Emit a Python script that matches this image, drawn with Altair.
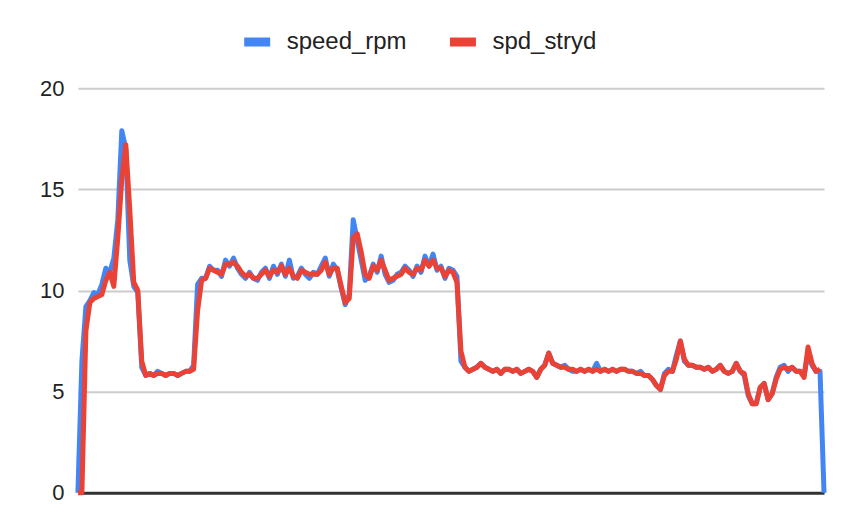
import altair as alt
import pandas as pd

series_names = ["speed_rpm", "spd_stryd"]
series_colors = ["#4285F4", "#EA4335"]
y_ticks = [0, 5, 10, 15, 20]

speed_rpm = [
    0, 6.5, 9.2, 9.5, 9.9, 9.8, 10.3, 11.1, 10.9, 11.6,
    13.5, 17.9, 17.0, 11.5, 10.2, 9.9, 6.2, 5.8, 5.9, 5.8,
    6.0, 5.9, 5.8, 5.9, 5.9, 5.8, 5.9, 6.0, 6.0, 6.3,
    10.3, 10.6, 10.6, 11.2, 11.0, 11.0, 10.7, 11.5, 11.2, 11.6,
    11.1, 10.8, 10.6, 10.9, 10.6, 10.5, 10.9, 11.1, 10.6, 11.2,
    10.8, 11.3, 10.7, 11.5, 10.6, 10.7, 11.1, 10.8, 10.6, 10.9,
    10.8, 11.2, 11.6, 10.7, 11.3, 11.0, 10.1, 9.3, 9.8, 13.5,
    12.5, 11.5, 10.5, 10.7, 11.3, 10.9, 11.7, 10.8, 10.4, 10.5,
    10.8, 10.9, 11.2, 11.0, 10.7, 11.2, 10.9, 11.7, 11.2, 11.8,
    11.0, 11.2, 10.6, 11.1, 11.0, 10.7, 6.5, 6.2, 6.0, 6.1,
    6.2, 6.4, 6.2, 6.1, 6.0, 6.1, 5.9, 6.1, 6.1, 6.0,
    6.1, 5.9, 6.0, 6.1, 6.0, 5.7, 6.1, 6.3, 6.9, 6.4,
    6.3, 6.2, 6.3, 6.1, 6.0, 6.0, 6.1, 6.0, 6.1, 6.0,
    6.4, 6.0, 6.1, 6.0, 6.1, 6.0, 6.1, 6.1, 6.0, 6.0,
    5.9, 6.0, 5.8, 5.8, 5.6, 5.3, 5.1, 5.9, 6.1, 6.0,
    6.8, 7.5, 6.5, 6.3, 6.3, 6.2, 6.2, 6.1, 6.2, 6.0,
    6.1, 6.3, 6.0, 5.9, 6.0, 6.4, 6.0, 5.8, 4.8, 4.4,
    4.4, 5.2, 5.4, 4.6, 4.9, 5.7, 6.2, 6.3, 6.0, 6.2,
    6.0, 6.0, 5.8, 6.9, 6.3, 6.0, 6.0, 0,
]

spd_stryd = [
    0, 0, 8.0, 9.4, 9.6, 9.7, 9.8, 10.5, 10.9, 10.2,
    12.6, 15.5, 17.2, 14.0, 10.4, 10.0, 6.5, 5.8, 5.9, 5.8,
    5.9, 5.9, 5.8, 5.9, 5.9, 5.8, 5.9, 6.0, 6.0, 6.1,
    9.0, 10.5, 10.6, 11.1, 11.0, 10.9, 10.8, 11.3, 11.3, 11.4,
    11.2, 10.9, 10.7, 10.8, 10.6, 10.6, 10.8, 11.0, 10.7, 11.0,
    10.9, 11.2, 10.8, 11.1, 10.7, 10.6, 11.0, 10.9, 10.8, 10.8,
    10.8, 11.0, 11.4, 10.8, 11.1, 11.1, 10.2, 9.4, 9.6, 12.6,
    12.8, 11.9, 10.8, 10.6, 11.2, 11.0, 11.5, 11.0, 10.5, 10.6,
    10.7, 10.8, 11.1, 10.9, 10.8, 11.1, 11.0, 11.5, 11.2, 11.5,
    11.1, 11.1, 10.7, 11.0, 10.9, 10.4, 7.0, 6.2, 6.0, 6.1,
    6.2, 6.4, 6.2, 6.1, 6.0, 6.1, 5.9, 6.1, 6.1, 6.0,
    6.1, 5.9, 6.0, 6.1, 6.0, 5.7, 6.1, 6.3, 6.9, 6.4,
    6.3, 6.2, 6.2, 6.1, 6.1, 6.0, 6.1, 6.0, 6.1, 6.0,
    6.1, 6.0, 6.1, 6.0, 6.1, 6.0, 6.1, 6.1, 6.0, 6.0,
    5.9, 5.9, 5.8, 5.8, 5.6, 5.3, 5.1, 5.8, 6.0, 6.0,
    6.6, 7.5, 6.6, 6.3, 6.3, 6.2, 6.2, 6.1, 6.2, 6.0,
    6.1, 6.3, 6.0, 5.9, 6.0, 6.4, 6.0, 5.9, 4.9, 4.4,
    4.4, 5.2, 5.4, 4.6, 4.9, 5.6, 6.1, 6.2, 6.1, 6.2,
    6.0, 6.0, 5.7, 7.2, 6.4, 6.0, 6.1, None,
]

n = len(speed_rpm)
df = pd.DataFrame({
    "t": list(range(n)) * 2,
    "series": ["speed_rpm"] * n + ["spd_stryd"] * n,
    "value": speed_rpm + spd_stryd,
})

FONT = "Liberation Sans"

color = alt.Color(
    "series:N",
    scale=alt.Scale(domain=series_names, range=series_colors),
    legend=alt.Legend(
        title=None,
        orient="none",
        direction="horizontal",
        legendX=162,
        legendY=-64,
        symbolType="stroke",
        symbolSize=676,
        symbolStrokeWidth=9,
        labelFont=FONT,
        labelFontSize=24,
        labelColor="#222222",
        labelOffset=12,
        columnPadding=24,
        padding=0,
        labelLimit=300,
    ),
)

x = alt.X(
    "t:Q",
    scale=alt.Scale(domain=[0, n - 1], nice=False, zero=False),
    axis=alt.Axis(title=None, labels=False, ticks=False, grid=False,
                  domain=True, domainColor="#333333", domainWidth=3),
)
y = alt.Y(
    "value:Q",
    scale=alt.Scale(domain=[0, 20], nice=False),
    axis=alt.Axis(title=None, values=y_ticks, ticks=False, domain=False,
                  grid=True, gridColor="#cccccc", gridWidth=2,
                  labelFont=FONT, labelFontSize=22, labelColor="#222222",
                  labelPadding=14),
)

base = alt.Chart(df).mark_line(strokeWidth=5, strokeJoin="round").encode(
    x=x, y=y, color=color
)

blue = base.transform_filter(alt.datum.series == "speed_rpm")
red = base.transform_filter(alt.datum.series == "spd_stryd")

chart = alt.layer(blue, red).properties(
    width=747,
    height=405,
    autosize=alt.AutoSizeParams(type="none"),
    padding={"left": 70, "top": 80, "right": 10, "bottom": 20},
).configure_view(stroke=None)

chart.save("out.html", embed_options={"renderer": "svg", "actions": False})
